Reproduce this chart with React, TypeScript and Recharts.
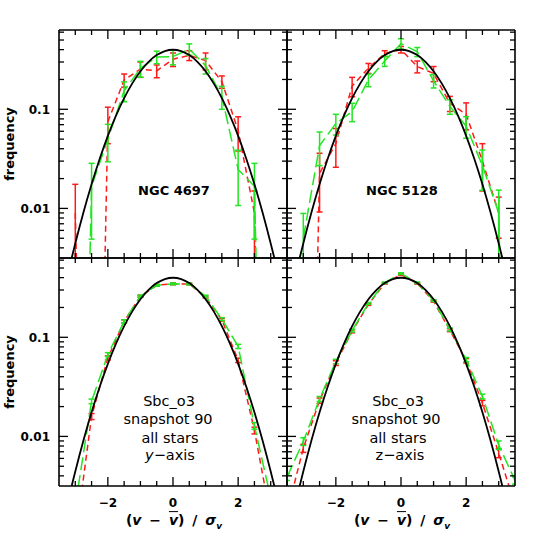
import React from "react";
import { ComposedChart, Line, XAxis, YAxis, ErrorBar } from "recharts";

// axes
const xDomain = [-3.5, 3.5];
const yDomain = [0.00316, 0.631];
const xTicks = [-3, -2.5, -2, -1.5, -1, -0.5, 0, 0.5, 1, 1.5, 2, 2.5, 3];
const xMajor = [-2, 0, 2];
const yTicks = [
  0.004, 0.005, 0.006, 0.007, 0.008, 0.009, 0.01, 0.02, 0.03, 0.04, 0.05, 0.06,
  0.07, 0.08, 0.09, 0.1, 0.2, 0.3, 0.4, 0.5, 0.6,
];
const yMajor = [0.01, 0.1];

// black reference curve
const gaussX = [
  -3.5, -3.25, -3, -2.75, -2.5, -2.25, -2, -1.75, -1.5, -1.25, -1, -0.75, -0.5,
  -0.25, 0, 0.25, 0.5, 0.75, 1, 1.25, 1.5, 1.75, 2, 2.25, 2.5, 2.75, 3, 3.25, 3.5,
];
const gaussY = [
  0.00087, 0.00203, 0.00443, 0.00909, 0.0175, 0.0317, 0.054, 0.0863, 0.1295,
  0.1826, 0.242, 0.3011, 0.3521, 0.3867, 0.3989, 0.3867, 0.3521, 0.3011, 0.242,
  0.1826, 0.1295, 0.0863, 0.054, 0.0317, 0.0175, 0.00909, 0.00443, 0.00203, 0.00087,
];

// NGC 4697 (1e-9 = empty bin)
const n4697X = [-3, -2.5, -2, -1.5, -1, -0.5, 0, 0.5, 1, 1.5, 2, 2.5, 3];
const n4697Red = [0.009, 1e-9, 0.075, 0.197, 0.255, 0.244, 0.32, 0.35, 0.31, 0.19, 0.061, 0.009, 1e-9];
const n4697RedErr = [0.0085, 0, 0.03, 0.03, 0.045, 0.036, 0.05, 0.04, 0.06, 0.027, 0.023, 0.006, 0];
const n4697Green = [1e-9, 0.0167, 0.05, 0.154, 0.258, 0.337, 0.34, 0.404, 0.276, 0.135, 0.0247, 0.0167, 1e-9];
const n4697GreenErr = [0, 0.0118, 0.0205, 0.035, 0.047, 0.049, 0.059, 0.053, 0.049, 0.035, 0.014, 0.0118, 0];

// NGC 5128
const n5128RedX = [-3, -2.5, -2, -1.5, -1, -0.5, 0, 0.5, 1, 1.5, 2, 2.5, 3];
const n5128Red = [1e-9, 0.0226, 0.045, 0.172, 0.26, 0.365, 0.4, 0.27, 0.23, 0.115, 0.089, 0.03, 0.009];
const n5128RedErr = [0, 0.0134, 0.019, 0.038, 0.03, 0.025, 0.03, 0.037, 0.04, 0.02, 0.027, 0.015, 0.004];
const n5128GreenX = [-3, -2.5, -2, -1.5, -1, -0.5, 0, 0.5, 1, 1.5, 2, 2.5, 3, 3.5];
const n5128Green = [0.005, 0.043, 0.072, 0.095, 0.198, 0.307, 0.46, 0.38, 0.194, 0.107, 0.0676, 0.027, 0.009, 1e-9];
const n5128GreenErr = [0.0039, 0.016, 0.017, 0.02, 0.029, 0.036, 0.055, 0.04, 0.03, 0.018, 0.0166, 0.0118, 0.0063, 0];

// Sbc_o3 snapshot 90, y-axis
const sbcYX = [-3, -2.5, -2, -1.5, -1, -0.5, 0, 0.5, 1, 1.5, 2, 2.5, 3];
const sbcYRed = [0.0009, 0.0159, 0.062, 0.145, 0.26, 0.335, 0.346, 0.345, 0.255, 0.15, 0.0586, 0.0115, 0.0015];
const sbcYRedErr = [0.0002, 0.0011, 0.003, 0.005, 0.006, 0.007, 0.007, 0.007, 0.006, 0.005, 0.003, 0.0009, 0.0003];
const sbcYGreen = [0.002, 0.0226, 0.067, 0.145, 0.26, 0.335, 0.346, 0.345, 0.26, 0.153, 0.081, 0.0128, 0.0024];
const sbcYGreenErr = [0.0003, 0.0012, 0.003, 0.005, 0.006, 0.007, 0.007, 0.007, 0.006, 0.005, 0.004, 0.001, 0.0003];

// Sbc_o3 snapshot 90, z-axis
const sbcZX = [-3.5, -3, -2.5, -2, -1.5, -1, -0.5, 0, 0.5, 1, 1.5, 2, 2.5, 3, 3.5];
const sbcZRed = [0.0017, 0.0076, 0.023, 0.055, 0.115, 0.215, 0.35, 0.43, 0.35, 0.231, 0.118, 0.058, 0.0217, 0.0068, 0.002];
const sbcZRedErr = [0.0002, 0.0007, 0.0014, 0.003, 0.004, 0.005, 0.006, 0.008, 0.006, 0.005, 0.004, 0.003, 0.0014, 0.0007, 0.0002];
const sbcZGreen = [0.0039, 0.0089, 0.0239, 0.057, 0.117, 0.22, 0.355, 0.44, 0.355, 0.235, 0.12, 0.0596, 0.0253, 0.0082, 0.0036];
const sbcZGreenErr = [0.0003, 0.0008, 0.0014, 0.003, 0.004, 0.005, 0.006, 0.008, 0.006, 0.005, 0.004, 0.003, 0.0014, 0.0008, 0.0003];

const RED = "#ff1a1a";
const GREEN = "#22e622";
const FONT = "'DejaVu Sans', sans-serif";

const toPoints = (xs: number[], ys: number[], es?: number[]) =>
  xs.map((x, i) => {
    const e = es ? es[i] : 0;
    // keep the lower end positive for the log scale
    const lo = Math.max(0, Math.min(e, ys[i] - 1e-6));
    return { x, y: ys[i], e: [lo, e] };
  });

const gauss = toPoints(gaussX, gaussY);

const fmtX = (v: number) => (v < 0 ? "\u2212" + Math.abs(v) : String(v));

function XTick(props: any) {
  const { x, y, payload, side, labels } = props;
  const v = payload.value;
  const major = xMajor.includes(v);
  const len = major ? 9 : 5;
  const dir = side === "bottom" ? -1 : 1;
  return (
    <g>
      <line x1={x} y1={y} x2={x} y2={y + dir * len} stroke="#000" strokeWidth={1.3} />
      {labels && major && (
        <text x={x} y={y + 21} textAnchor="middle" fontSize={12} fontWeight="bold" fontFamily={FONT} fill="#000">
          {fmtX(v)}
        </text>
      )}
    </g>
  );
}

function YTick(props: any) {
  const { x, y, payload, side, labels } = props;
  const v = payload.value;
  const major = yMajor.includes(v);
  const len = major ? 9 : 5;
  const dir = side === "left" ? 1 : -1;
  return (
    <g>
      <line x1={x} y1={y} x2={x + dir * len} y2={y} stroke="#000" strokeWidth={1.3} />
      {labels && major && (
        <text x={x - 9} y={y} dy="0.36em" textAnchor="end" fontSize={12} fontWeight="bold" fontFamily={FONT} fill="#000">
          {String(v)}
        </text>
      )}
    </g>
  );
}

interface PanelProps {
  name: string;
  left: number;
  top: number;
  yLabels: boolean;
  xLabels: boolean;
  red: any[];
  green: any[];
}

// each panel: 228x228 plot, 1px-thick axes on all four sides
function Panel({ name, left, top, yLabels, xLabels, red, green }: PanelProps) {
  const margin = {
    top: xLabels ? 0 : 29,
    right: yLabels ? 0 : 29,
    bottom: xLabels ? 58 : 0,
    left: yLabels ? 58 : 0,
  };
  const width = margin.left + margin.right + 230;
  const height = margin.top + margin.bottom + 230;
  const axisLine = { stroke: "#000", strokeWidth: 1.6 };
  const clipId = `${name}-red`;
  const clip = `url(#clipPath-${clipId})`;
  return (
    <div className={`pnl-${name}`} style={{ position: "absolute", left, top }}>
      <style>{`.pnl-${name} .recharts-errorBars { clip-path: ${clip}; }`}</style>
      <ComposedChart width={width} height={height} margin={margin}>
        <XAxis
          dataKey="x"
          type="number"
          domain={xDomain}
          allowDataOverflow
          ticks={xTicks}
          interval={0}
          height={1}
          tickSize={0}
          tickMargin={0}
          axisLine={axisLine}
          tickLine={false}
          tick={(p: any) => <XTick {...p} side="bottom" labels={xLabels} />}
        />
        <XAxis
          xAxisId="t"
          orientation="top"
          dataKey="x"
          type="number"
          domain={xDomain}
          allowDataOverflow
          ticks={xTicks}
          interval={0}
          height={1}
          tickSize={0}
          tickMargin={0}
          axisLine={axisLine}
          tickLine={false}
          tick={(p: any) => <XTick {...p} side="top" />}
        />
        <YAxis
          type="number"
          scale="log"
          domain={yDomain}
          allowDataOverflow
          ticks={yTicks}
          interval={0}
          width={1}
          tickSize={0}
          tickMargin={0}
          axisLine={axisLine}
          tickLine={false}
          tick={(p: any) => <YTick {...p} side="left" labels={yLabels} />}
        />
        <YAxis
          yAxisId="r"
          orientation="right"
          type="number"
          scale="log"
          domain={yDomain}
          allowDataOverflow
          ticks={yTicks}
          interval={0}
          width={1}
          tickSize={0}
          tickMargin={0}
          axisLine={axisLine}
          tickLine={false}
          tick={(p: any) => <YTick {...p} side="right" />}
        />
        <Line
          id={clipId}
          data={red}
          dataKey="y"
          type="linear"
          stroke={RED}
          strokeWidth={1.5}
          strokeDasharray="6 4"
          dot={false}
          activeDot={false}
          isAnimationActive={false}
        >
          <ErrorBar dataKey="e" direction="y" width={3} stroke={RED} strokeWidth={1.5} clipPath={clip} />
        </Line>
        <Line
          id={`${name}-green`}
          data={green}
          dataKey="y"
          type="linear"
          stroke={GREEN}
          strokeWidth={1.5}
          strokeDasharray="13 5"
          dot={false}
          activeDot={false}
          isAnimationActive={false}
        >
          <ErrorBar dataKey="e" direction="y" width={3} stroke={GREEN} strokeWidth={1.5} clipPath={clip} />
        </Line>
        <Line
          id={`${name}-black`}
          data={gauss}
          dataKey="y"
          type="monotone"
          stroke="#000"
          strokeWidth={1.8}
          dot={false}
          activeDot={false}
          isAnimationActive={false}
        />
      </ComposedChart>
    </div>
  );
}

const textBase: React.CSSProperties = {
  position: "absolute",
  transform: "translate(-50%, -50%)",
  whiteSpace: "nowrap",
  lineHeight: 1,
  fontFamily: FONT,
  color: "#000",
};

function Note({ x, y, size, bold, children }: any) {
  return (
    <div style={{ ...textBase, left: x, top: y, fontSize: size, fontWeight: bold ? "bold" : "normal" }}>
      {children}
    </div>
  );
}

function XTitle({ x }: { x: number }) {
  return (
    <div style={{ ...textBase, left: x, top: 522, fontSize: 14, fontWeight: "bold", wordSpacing: 3 }}>
      (<i>v</i> &minus; <i style={{ textDecoration: "overline" }}>v</i>) / <i>σ</i>
      <sub style={{ fontSize: 9 }}>
        <i>v</i>
      </sub>
    </div>
  );
}

function YTitle({ y }: { y: number }) {
  return (
    <div
      style={{
        ...textBase,
        left: 9,
        top: y,
        fontSize: 13,
        fontWeight: "bold",
        transform: "translate(-50%, -50%) rotate(-90deg)",
      }}
    >
      frequency
    </div>
  );
}

export default function App() {
  return (
    <div style={{ position: "absolute", left: 0, top: 0, width: 545, height: 545, background: "#fff", overflow: "hidden" }}>
      <Panel name="tl" left={0} top={0} yLabels xLabels={false}
        red={toPoints(n4697X, n4697Red, n4697RedErr)}
        green={toPoints(n4697X, n4697Green, n4697GreenErr)} />
      <Panel name="tr" left={286} top={0} yLabels={false} xLabels={false}
        red={toPoints(n5128RedX, n5128Red, n5128RedErr)}
        green={toPoints(n5128GreenX, n5128Green, n5128GreenErr)} />
      <Panel name="bl" left={0} top={257} yLabels xLabels
        red={toPoints(sbcYX, sbcYRed, sbcYRedErr)}
        green={toPoints(sbcYX, sbcYGreen, sbcYGreenErr)} />
      <Panel name="br" left={286} top={257} yLabels={false} xLabels
        red={toPoints(sbcZX, sbcZRed, sbcZRedErr)}
        green={toPoints(sbcZX, sbcZGreen, sbcZGreenErr)} />

      <Note x={174} y={190} size={13} bold>NGC 4697</Note>
      <Note x={402} y={190} size={13} bold>NGC 5128</Note>

      <Note x={169} y={401} size={14.5}>Sbc_o3</Note>
      <Note x={168} y={419} size={14.5}>snapshot 90</Note>
      <Note x={170} y={438} size={14.5}>all stars</Note>
      <Note x={170} y={455} size={14.5}><i>y</i>&minus;axis</Note>

      <Note x={398} y={401} size={14.5}>Sbc_o3</Note>
      <Note x={396} y={419} size={14.5}>snapshot 90</Note>
      <Note x={398} y={438} size={14.5}>all stars</Note>
      <Note x={400} y={455} size={14.5}>z&minus;axis</Note>

      <YTitle y={144} />
      <YTitle y={372} />
      <XTitle x={174} />
      <XTitle x={402} />
    </div>
  );
}
